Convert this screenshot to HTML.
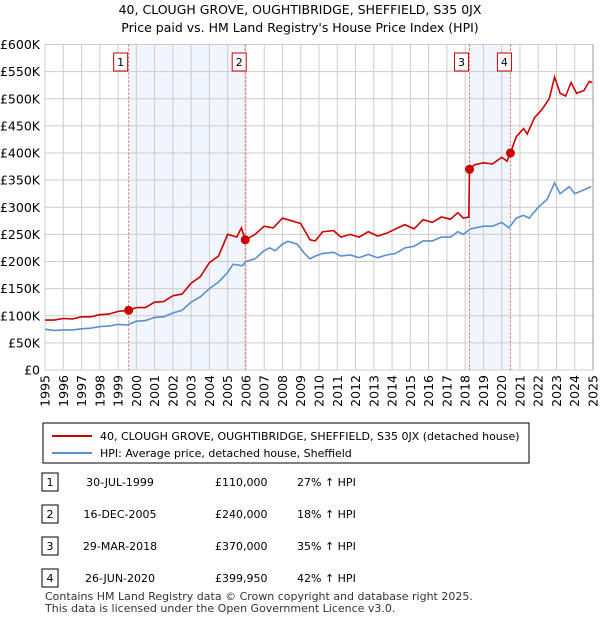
<!DOCTYPE html>
<html><head><meta charset="utf-8"><style>
body{margin:0;background:#fff;font-family:"Liberation Sans","DejaVu Sans",sans-serif;}
svg text{font-family:"DejaVu Sans","Liberation Sans",sans-serif;}
</style></head><body>
<svg id="c" width="600" height="620" viewBox="0 0 600 620">
<text x="300" y="14" text-anchor="middle" font-size="12.5">40, CLOUGH GROVE, OUGHTIBRIDGE, SHEFFIELD, S35 0JX</text>
<text x="300" y="32" text-anchor="middle" font-size="12.5">Price paid vs. HM Land Registry's House Price Index (HPI)</text>
<g id="plot"></g>
<rect x="43" y="423" width="486" height="40" fill="#fff" stroke="#000"/>
<line x1="52" y1="436" x2="92" y2="436" stroke="#cc0000" stroke-width="2"/>
<text x="100" y="440" font-size="11">40, CLOUGH GROVE, OUGHTIBRIDGE, SHEFFIELD, S35 0JX (detached house)</text>
<line x1="52" y1="453" x2="92" y2="453" stroke="#5b8fd0" stroke-width="2"/>
<text x="100" y="457" font-size="11">HPI: Average price, detached house, Sheffield</text>
<g id="tbl" font-size="11"></g>
<text x="45" y="600" font-size="11" fill="#333">Contains HM Land Registry data © Crown copyright and database right 2025.</text>
<text x="45" y="612" font-size="11" fill="#333">This data is licensed under the Open Government Licence v3.0.</text>
</svg>
<script>
const yearTicks=[1995,1996,1997,1998,1999,2000,2001,2002,2003,2004,2005,2006,2007,2008,2009,2010,2011,2012,2013,2014,2015,2016,2017,2018,2019,2020,2021,2022,2023,2024,2025];
const valueTicks=[0,50,100,150,200,250,300,350,400,450,500,550,600];
const valueLabels=["£0","£50K","£100K","£150K","£200K","£250K","£300K","£350K","£400K","£450K","£500K","£550K","£600K"];
const hpiT=[1995,1995.5,1996,1996.5,1997,1997.5,1998,1998.5,1999,1999.5,2000,2000.5,2001,2001.5,2002,2002.5,2003,2003.5,2004,2004.5,2005,2005.3,2005.8,2006,2006.5,2007,2007.3,2007.6,2008,2008.3,2008.8,2009.2,2009.5,2009.8,2010.2,2010.8,2011.2,2011.7,2012.2,2012.7,2013.2,2013.7,2014.2,2014.7,2015.2,2015.7,2016.2,2016.7,2017.2,2017.6,2017.9,2018.3,2019,2019.5,2020,2020.4,2020.8,2021.2,2021.5,2022,2022.5,2022.9,2023.2,2023.7,2024,2024.5,2024.9];
const hpiV=[75,73,74,74,76,77,80,81,84,83,90,91,97,98,105,110,125,135,150,162,180,195,192,200,205,220,225,220,232,237,232,215,205,210,215,217,210,212,207,213,207,212,215,225,228,238,238,245,245,255,250,260,265,265,272,262,280,285,280,300,315,345,325,338,325,332,338];
const priceT=[1995,1995.5,1996,1996.5,1997,1997.5,1998,1998.5,1999,1999.58,2000,2000.5,2001,2001.5,2002,2002.5,2003,2003.5,2004,2004.5,2005,2005.5,2005.75,2005.96,2006.5,2007,2007.5,2008,2008.5,2009,2009.5,2009.8,2010.2,2010.8,2011.2,2011.7,2012.2,2012.7,2013.2,2013.7,2014.2,2014.7,2015.2,2015.7,2016.2,2016.7,2017.2,2017.6,2017.9,2018.2,2018.24,2018.5,2019,2019.5,2020,2020.3,2020.48,2020.8,2021.2,2021.4,2021.8,2022.2,2022.6,2022.9,2023.2,2023.5,2023.8,2024.1,2024.5,2024.8,2024.95];
const priceV=[92,92,95,94,98,98,102,103,108,110,115,115,125,126,137,140,160,172,198,210,250,245,262,240,250,265,262,280,275,270,240,238,255,257,245,250,245,255,247,252,260,268,260,277,272,282,278,290,280,282,370,378,382,380,392,385,400,430,445,435,465,480,500,540,510,505,530,510,515,532,530];
const saleT=[1999.58,2005.96,2018.24,2020.48];
const saleV=[110,240,370,399.95];
const saleLabels=["1","2","3","4"];
const saleDates=["30-JUL-1999","16-DEC-2005","29-MAR-2018","26-JUN-2020"];
const salePrices=["£110,000","£240,000","£370,000","£399,950"];
const saleHpi=["27% ↑ HPI","18% ↑ HPI","35% ↑ HPI","42% ↑ HPI"];
const NS="http://www.w3.org/2000/svg";
const X0=45,X1=593,Y0=370,Y1=44.5;
const xs=t=>X0+(t-1995)/30*(X1-X0);
const ys=v=>Y0-v/600*(Y0-Y1);
function mk(tag,attrs,parent){const e=document.createElementNS(NS,tag);for(const k in attrs)e.setAttribute(k,attrs[k]);parent.appendChild(e);return e;}
const g=document.getElementById('plot');
let e;
e=mk('rect',{x:X0,y:Y1,width:X1-X0,height:Y0-Y1,fill:'#fff'},g);


for(const [a,b] of [[0,1],[2,3]]){
 e=mk('rect',{x:xs(saleT[a]),y:Y1,width:xs(saleT[b])-xs(saleT[a]),height:Y0-Y1,fill:'#eef3fc',opacity:0.8},g);
 
 
}
yearTicks.forEach(t=>{
 e=mk('line',{x1:xs(t),x2:xs(t),y1:Y1,y2:Y0,stroke:'#ccc'},g);
 
 
 e=mk('text',{transform:`translate(${xs(t)+4.5},${Y0+5}) rotate(-90)`,'text-anchor':'end','font-size':12.5},g);
 e.textContent=t;
 
 
});
valueTicks.forEach((v,i)=>{
 e=mk('line',{x1:X0,x2:X1,y1:ys(v),y2:ys(v),stroke:'#ccc'},g);
 
 
 e=mk('text',{x:X0-5,y:ys(v)+4.5,'text-anchor':'end','font-size':12.5},g);
 e.textContent=valueLabels[i];
 
 
});
saleT.forEach((t,i)=>{
 e=mk('line',{x1:xs(t),x2:xs(t),y1:Y1,y2:Y0,stroke:'#e06060','stroke-dasharray':'2,2'},g);
 
 
});
function path(T,V,col,name){
 e=mk('path',{d:T.map((t,i)=>(i?'L':'M')+xs(t).toFixed(1)+','+ys(V[i]).toFixed(1)).join(''),fill:'none',stroke:col,'stroke-width':1.6},g);
 
 
}
path(hpiT,hpiV,'#5b8fd0','hpi-line');
path(priceT,priceV,'#cc0000','price-paid-line');
saleT.forEach((t,i)=>{
 e=mk('circle',{cx:xs(t),cy:ys(saleV[i]),r:4.5,fill:'#cc0000'},g);
 
 
 const bx=xs(t)+(i%2? -16: -15);
 e=mk('rect',{x:bx-(i==1||i==3?-3:0),y:53,width:14,height:18,fill:'#fff',stroke:'#cc0000'},g);
 
 
 e=mk('text',{x:bx-(i==1||i==3?-3:0)+7,y:66,'text-anchor':'middle','font-size':11},g);
 e.textContent=saleLabels[i];
 
 
});
e=mk('line',{x1:X1,x2:X1,y1:Y1,y2:Y0,stroke:'#999'},g);


const tb=document.getElementById('tbl');
saleLabels.forEach((l,i)=>{
 const y=482+i*32;
 e=mk('rect',{x:42,y:y-9,width:16,height:18,fill:'#fff',stroke:'#000'},tb);
 
 
 const cols=[[50,l,'middle'],[120,saleDates[i],'middle'],[215,salePrices[i],'start'],[297,saleHpi[i],'start']];
 cols.forEach(([x,txt,a],j)=>{
  e=mk('text',{x:x,y:y+4,'text-anchor':a},tb);
  e.textContent=txt;
  
  
 });
});
</script>
</body></html>
